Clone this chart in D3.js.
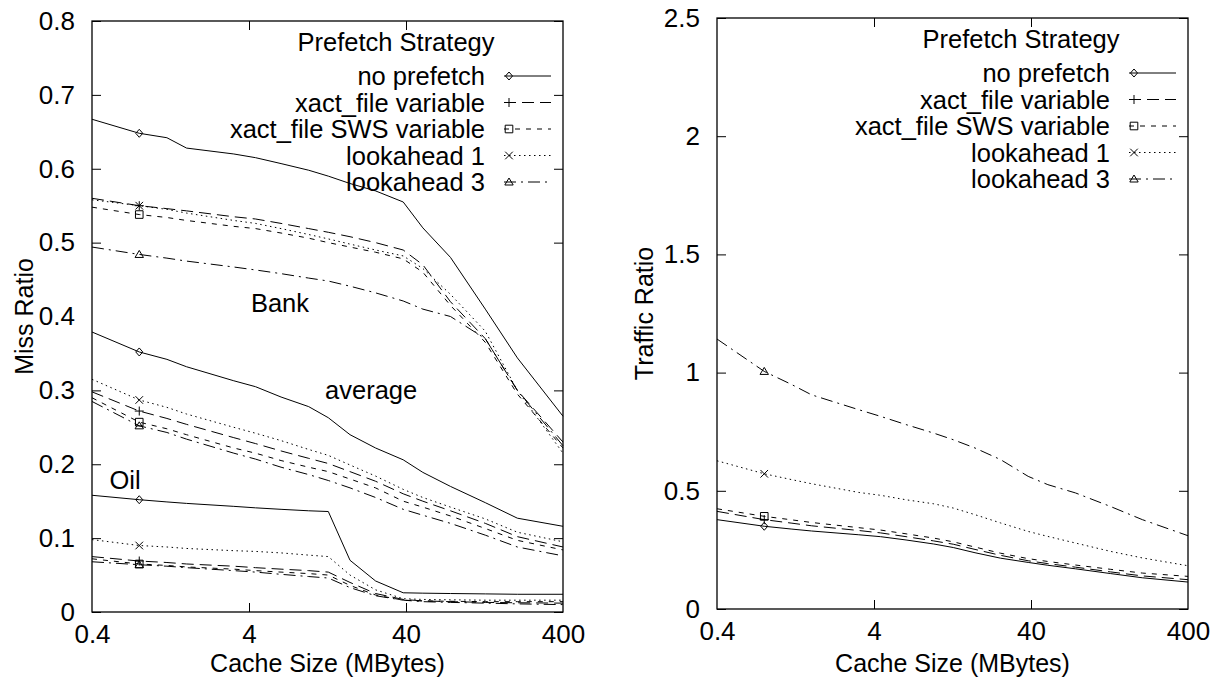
<!DOCTYPE html>
<html>
<head>
<meta charset="utf-8">
<script src="https://cdn.jsdelivr.net/npm/d3@7"></script>
<style>
  body { margin: 0; background: #fff; }
  svg text { font-family: "Liberation Sans", Arial, Helvetica, sans-serif; fill: #000; }
</style>
</head>
<body>
<svg id="chart" width="1211" height="677"></svg>
<script>
// cache sizes (MBytes)
var sizes = [0.4, 0.8, 1.2, 1.6, 3.2, 4.4, 6.4, 9.6, 12.8, 17.6, 25.6, 38.4, 51.2, 76.8, 128, 204.8, 400];
var xTicks = [0.4, 4, 40, 400];
var strategies = ["no prefetch", "xact_file variable", "xact_file SWS variable", "lookahead 1", "lookahead 3"];

// miss ratio, Bank trace
var bankNone  = [0.667, 0.648, 0.642, 0.628, 0.620, 0.615, 0.607, 0.598, 0.590, 0.580, 0.570, 0.555, 0.520, 0.480, 0.410, 0.344, 0.265];
var bankXact  = [0.560, 0.550, 0.546, 0.543, 0.535, 0.532, 0.526, 0.519, 0.514, 0.508, 0.500, 0.490, 0.470, 0.420, 0.370, 0.300, 0.230];
var bankSws   = [0.548, 0.538, 0.534, 0.530, 0.522, 0.519, 0.513, 0.506, 0.500, 0.494, 0.487, 0.478, 0.460, 0.415, 0.365, 0.295, 0.222];
var bankLook1 = [0.558, 0.550, 0.545, 0.540, 0.530, 0.526, 0.519, 0.511, 0.505, 0.498, 0.490, 0.482, 0.465, 0.430, 0.380, 0.300, 0.215];
var bankLook3 = [0.494, 0.484, 0.479, 0.475, 0.467, 0.463, 0.458, 0.452, 0.448, 0.441, 0.432, 0.421, 0.410, 0.400, 0.370, 0.300, 0.225];

// miss ratio, average
var avgNone  = [0.379, 0.352, 0.342, 0.332, 0.313, 0.305, 0.291, 0.278, 0.263, 0.240, 0.222, 0.206, 0.189, 0.170, 0.148, 0.127, 0.116];
var avgXact  = [0.298, 0.272, 0.262, 0.254, 0.236, 0.228, 0.218, 0.208, 0.201, 0.190, 0.177, 0.160, 0.150, 0.137, 0.120, 0.102, 0.088];
var avgSws   = [0.290, 0.257, 0.248, 0.240, 0.222, 0.215, 0.205, 0.196, 0.190, 0.180, 0.168, 0.150, 0.142, 0.130, 0.113, 0.097, 0.084];
var avgLook1 = [0.315, 0.287, 0.277, 0.268, 0.250, 0.242, 0.232, 0.220, 0.212, 0.199, 0.184, 0.166, 0.155, 0.142, 0.126, 0.108, 0.095];
var avgLook3 = [0.285, 0.252, 0.243, 0.234, 0.215, 0.207, 0.196, 0.186, 0.178, 0.168, 0.155, 0.139, 0.131, 0.120, 0.104, 0.088, 0.076];

// miss ratio, Oil trace
var oilNone  = [0.158, 0.152, 0.149, 0.147, 0.143, 0.141, 0.139, 0.137, 0.136, 0.070, 0.042, 0.026, 0.0255, 0.025, 0.0245, 0.024, 0.024];
var oilXact  = [0.075, 0.069, 0.067, 0.065, 0.062, 0.060, 0.058, 0.056, 0.054, 0.040, 0.025, 0.017, 0.015, 0.014, 0.013, 0.0125, 0.012];
var oilSws   = [0.072, 0.065, 0.063, 0.061, 0.058, 0.056, 0.054, 0.052, 0.050, 0.036, 0.023, 0.016, 0.015, 0.0145, 0.014, 0.014, 0.014];
var oilLook1 = [0.098, 0.090, 0.088, 0.086, 0.083, 0.082, 0.080, 0.077, 0.075, 0.050, 0.030, 0.018, 0.017, 0.0165, 0.016, 0.016, 0.016];
var oilLook3 = [0.068, 0.064, 0.062, 0.060, 0.056, 0.054, 0.051, 0.048, 0.046, 0.033, 0.022, 0.016, 0.014, 0.013, 0.012, 0.011, 0.010];

// traffic ratio
var trNone  = [0.378, 0.350, 0.338, 0.330, 0.314, 0.306, 0.292, 0.275, 0.260, 0.238, 0.215, 0.197, 0.185, 0.170, 0.150, 0.132, 0.114];
var trXact  = [0.413, 0.378, 0.363, 0.352, 0.332, 0.322, 0.306, 0.288, 0.274, 0.252, 0.227, 0.204, 0.192, 0.177, 0.157, 0.140, 0.124];
var trSws   = [0.424, 0.392, 0.377, 0.366, 0.344, 0.334, 0.318, 0.300, 0.284, 0.262, 0.236, 0.213, 0.201, 0.186, 0.168, 0.152, 0.138];
var trLook1 = [0.627, 0.572, 0.547, 0.530, 0.493, 0.481, 0.462, 0.445, 0.427, 0.399, 0.364, 0.328, 0.307, 0.279, 0.244, 0.216, 0.183];
var trLook3 = [1.142, 1.005, 0.949, 0.906, 0.843, 0.815, 0.780, 0.744, 0.716, 0.681, 0.632, 0.561, 0.526, 0.491, 0.434, 0.378, 0.310];

var missTicks = [0, 0.1, 0.2, 0.3, 0.4, 0.5, 0.6, 0.7, 0.8];
var trafficTicks = [0, 0.5, 1, 1.5, 2, 2.5];

// line styles, one per strategy
var dashes = [null, "12,6", "5,6", "1.5,3.5", "12,5,2,5"];
var marks = ["diamond", "plus", "square", "times", "triangle"];

var svg = d3.select("#chart");

function markPath(kind) {
  var p = d3.path();
  if (kind == "diamond") {
    p.moveTo(0, -4); p.lineTo(3.5, 0); p.lineTo(0, 4); p.lineTo(-3.5, 0); p.closePath();
  } else if (kind == "plus") {
    p.moveTo(-4.5, 0); p.lineTo(4.5, 0); p.moveTo(0, -4.5); p.lineTo(0, 4.5);
  } else if (kind == "square") {
    p.rect(-3.8, -3.8, 7.6, 7.6);
  } else if (kind == "times") {
    p.moveTo(-3.8, -3.8); p.lineTo(3.8, 3.8); p.moveTo(-3.8, 3.8); p.lineTo(3.8, -3.8);
  } else {
    p.moveTo(0, -4); p.lineTo(4.2, 3); p.lineTo(-4.2, 3); p.closePath();
  }
  return p.toString();
}

function drawPanel(opt) {
  var left = opt.left, top = opt.top, w = 471, h = 591;
  var g = svg.append("g").attr("transform", "translate(" + left + "," + top + ")");

  var x = d3.scaleLog().domain([0.4, 400]).range([0, w]);
  var y = d3.scaleLinear().domain([0, opt.ymax]).range([h, 0]);

  // axes, ticks pointing inward like gnuplot
  var fmt = function(d) { return String(d); };
  g.append("g").attr("transform", "translate(0," + h + ")")
    .call(d3.axisBottom(x).tickValues(xTicks).tickSize(-9).tickPadding(13).tickFormat(fmt));
  g.append("g")
    .call(d3.axisTop(x).tickValues(xTicks).tickSize(-9).tickFormat(""));
  g.append("g")
    .call(d3.axisLeft(y).tickValues(opt.yTicks).tickSize(-9).tickPadding(17).tickFormat(fmt));
  g.append("g").attr("transform", "translate(" + w + ",0)")
    .call(d3.axisRight(y).tickValues(opt.yTicks).tickSize(-9).tickFormat(""));
  g.selectAll(".domain").remove();
  g.selectAll(".tick line").attr("stroke", "#000").attr("stroke-width", 1);
  g.selectAll(".tick text").attr("font-size", 26).attr("fill", "#000");
  // hide the end ticks on the frame corners
  g.selectAll(".tick").filter(function(d) { return d == 0.4 || d == 400; }).select("line").remove();

  var line = d3.line()
    .x(function(d) { return x(d[0]); })
    .y(function(d) { return y(d[1]); });

  opt.groups.forEach(function(grp) {
    grp.forEach(function(vals, i) {
      var pts = sizes.map(function(s, j) { return [s, vals[j]]; });
      g.append("path").datum(pts)
        .attr("d", line)
        .attr("fill", "none")
        .attr("stroke", "#000")
        .attr("stroke-width", 1)
        .attr("stroke-dasharray", dashes[i]);
      g.append("path")
        .attr("d", markPath(marks[i]))
        .attr("transform", "translate(" + x(sizes[1]) + "," + y(vals[1]) + ")")
        .attr("fill", "none")
        .attr("stroke", "#000")
        .attr("stroke-width", 1);
    });
  });

  g.append("rect").attr("width", w).attr("height", h)
    .attr("fill", "none").attr("stroke", "#000").attr("stroke-width", 1.3);

  // legend
  var lg = g.append("g");
  lg.append("text").attr("x", w - 167).attr("y", 30)
    .attr("text-anchor", "middle").attr("font-size", 25.5).text("Prefetch Strategy");
  strategies.forEach(function(name, i) {
    var ly = 55 + i * 26.5;
    lg.append("text").attr("x", w - 78).attr("y", ly + 9)
      .attr("text-anchor", "end").attr("font-size", 25.5).text(name);
    lg.append("line").attr("x1", w - 59).attr("x2", w - 12).attr("y1", ly).attr("y2", ly)
      .attr("stroke", "#000").attr("stroke-width", 1).attr("stroke-dasharray", dashes[i]);
    lg.append("path").attr("d", markPath(marks[i]))
      .attr("transform", "translate(" + (w - 54) + "," + ly + ")")
      .attr("fill", "none").attr("stroke", "#000").attr("stroke-width", 1);
  });

  (opt.notes || []).forEach(function(n) {
    g.append("text").attr("x", x(n.at[0])).attr("y", y(n.at[1]))
      .attr("text-anchor", "middle").attr("font-size", 25.5).text(n.label);
  });

  svg.append("text").attr("x", left + w / 2).attr("y", 672)
    .attr("text-anchor", "middle").attr("font-size", 25).text("Cache Size (MBytes)");
  svg.append("text")
    .attr("transform", "translate(" + opt.titleX + "," + (top + h / 2) + ") rotate(-90)")
    .attr("text-anchor", "middle").attr("font-size", 25).text(opt.title);
}

drawPanel({
  left: 92, top: 21, ymax: 0.8, yTicks: missTicks, title: "Miss Ratio", titleX: 33,
  groups: [
    [bankNone, bankXact, bankSws, bankLook1, bankLook3],
    [avgNone, avgXact, avgSws, avgLook1, avgLook3],
    [oilNone, oilXact, oilSws, oilLook1, oilLook3]
  ],
  notes: [
    {label: "Bank", at: [6.3, 0.406]},
    {label: "average", at: [24, 0.288]},
    {label: "Oil", at: [0.65, 0.166]}
  ]
});

drawPanel({
  left: 717, top: 18, ymax: 2.5, yTicks: trafficTicks, title: "Traffic Ratio", titleX: 653,
  groups: [
    [trNone, trXact, trSws, trLook1, trLook3]
  ]
});
</script>
</body>
</html>
